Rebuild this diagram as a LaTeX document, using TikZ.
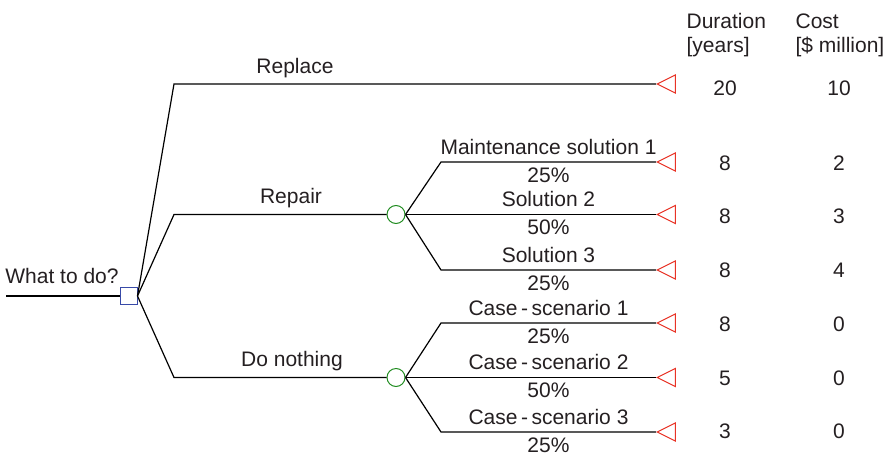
\documentclass[tikz,border=0pt]{standalone}
\usepackage{fontspec}
\setmainfont{Liberation Sans}
\usetikzlibrary{shapes.geometric}
\definecolor{DecClr}{rgb}{0.22,0.29,0.66}
\definecolor{ChanceClr}{rgb}{0.13,0.55,0.13}
\definecolor{EndClr}{rgb}{0.91,0.2,0.15}
\definecolor{TxtClr}{rgb}{0.14,0.12,0.13}

\begin{document}
\begin{tikzpicture}[x=1pt,y=-1pt,line width=1.2pt,
  every node/.style={font=\fontsize{21}{24}\selectfont,text=TxtClr,inner sep=0pt},
  decision/.style={draw=DecClr,rectangle,minimum size=17pt,line width=1pt},
  chance/.style={draw=ChanceClr,circle,minimum size=18pt,line width=1pt},
  endpt/.style={draw=EndClr,isosceles triangle,isosceles triangle stretches,
    shape border rotate=180,minimum width=18pt,minimum height=18pt,
    anchor=apex,line width=1pt},
  lbl/.style={anchor=base},
  hdr/.style={anchor=base west},
  branchtxt/.style={midway,anchor=base,yshift=8pt},
  probtxt/.style={midway,anchor=base,yshift=-20pt}]
\useasboundingbox (0,0) rectangle (890,455);

\node[decision] (dec) at (128.5,296) {};
\node[chance] (rep) at (396,214.5) {};
\node[chance] (non) at (396,377.5) {};

\node[endpt] (e1) at (656,84) {};
\node[endpt] (e2) at (656,162) {};
\node[endpt] (e3) at (656,214.5) {};
\node[endpt] (e4) at (656,270) {};
\node[endpt] (e5) at (656,323) {};
\node[endpt] (e6) at (656,377.5) {};
\node[endpt] (e7) at (656,432) {};

\coordinate (start) at (6,296);
\coordinate (k1) at (174,84);
\coordinate (k2) at (174,214.5);
\coordinate (k3) at (174,377.5);
\coordinate (k4) at (441,162);
\coordinate (k5) at (441,214.5);
\coordinate (k6) at (441,270);
\coordinate (k7) at (441,323);
\coordinate (k8) at (441,377.5);
\coordinate (k9) at (441,432);

% decision
\draw (start) -- (dec.west);
\draw (dec.east) -- (k1) -- (e1.apex);
\draw (dec.east) -- (k2) -- (rep.west);
\draw (dec.east) -- (k3) -- (non.west);

% repair
\draw (rep.east) -- (k4) -- (e2.apex)
  node[branchtxt] (b1) {Maintenance solution 1} node[probtxt] (p1) {25\%};
\draw (rep.east) -- (k5) -- (e3.apex)
  node[branchtxt] (b2) {Solution 2} node[probtxt] (p2) {50\%};
\draw (rep.east) -- (k6) -- (e4.apex)
  node[branchtxt] (b3) {Solution 3} node[probtxt] (p3) {25\%};

% do nothing
\draw (non.east) -- (k7) -- (e5.apex)
  node[branchtxt] (b4) {Case\,-\,scenario 1} node[probtxt] (p4) {25\%};
\draw (non.east) -- (k8) -- (e6.apex)
  node[branchtxt] (b5) {Case\,-\,scenario 2} node[probtxt] (p5) {50\%};
\draw (non.east) -- (k9) -- (e7.apex)
  node[branchtxt] (b6) {Case\,-\,scenario 3} node[probtxt] (p6) {25\%};

\node[lbl] (what) at (62,283) {What to do?};
\node[lbl] (replace) at (295,73) {Replace};
\node[lbl] (repair) at (291,203) {Repair};
\node[lbl] (nothing) at (292,366) {Do nothing};

\node[hdr] (dur) at (686,28) {Duration};
\node[hdr] (durunit) at (686,52) {[years]};
\node[hdr] (cost) at (795,28) {Cost};
\node[hdr] (costunit) at (795,52) {[\$ million]};

\node[lbl] (d1) at (725,95) {20};
\node[lbl] (c1) at (839,95) {10};
\node[lbl] (d2) at (725,170) {8};
\node[lbl] (c2) at (839,170) {2};
\node[lbl] (d3) at (725,223) {8};
\node[lbl] (c3) at (839,223) {3};
\node[lbl] (d4) at (725,277) {8};
\node[lbl] (c4) at (839,277) {4};
\node[lbl] (d5) at (725,331) {8};
\node[lbl] (c5) at (839,331) {0};
\node[lbl] (d6) at (725,385) {5};
\node[lbl] (c6) at (839,385) {0};
\node[lbl] (d7) at (725,438) {3};
\node[lbl] (c7) at (839,438) {0};
\end{tikzpicture}
\end{document}
